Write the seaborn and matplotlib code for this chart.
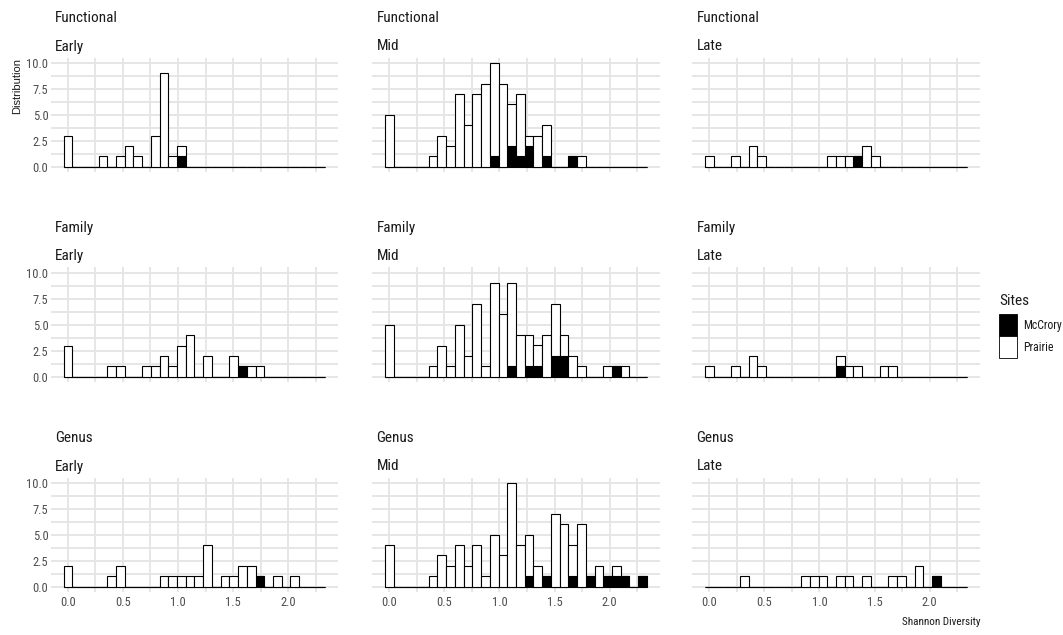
import numpy as np
import pandas as pd
import seaborn as sns
import matplotlib.pyplot as plt
from matplotlib.patches import Patch

# 30 bins shared by every panel (ggplot default), centred on 0 .. 2.30
n_bins = 30
bin_width = 2.30 / (n_bins - 1)
bin_centers = np.arange(n_bins) * bin_width
bin_edges = list(np.append(bin_centers - bin_width / 2, bin_centers[-1] + bin_width / 2))

taxa = ["Functional", "Family", "Genus"]
stages = ["Early", "Mid", "Late"]
sites = ["McCrory", "Prairie"]
site_colors = {"McCrory": "black", "Prairie": "white"}

# counts per bin (index 0..29)
functional_early_prairie = [3, 0, 0, 0, 1, 0, 1, 2, 1, 0, 3, 9, 1, 1, 0, 0, 0, 0, 0, 0, 0, 0, 0, 0, 0, 0, 0, 0, 0, 0]
functional_early_mccrory = [0, 0, 0, 0, 0, 0, 0, 0, 0, 0, 0, 0, 0, 1, 0, 0, 0, 0, 0, 0, 0, 0, 0, 0, 0, 0, 0, 0, 0, 0]
functional_mid_prairie = [5, 0, 0, 0, 0, 1, 3, 2, 7, 4, 7, 8, 9, 8, 4, 6, 1, 3, 3, 0, 0, 0, 1, 0, 0, 0, 0, 0, 0, 0]
functional_mid_mccrory = [0, 0, 0, 0, 0, 0, 0, 0, 0, 0, 0, 0, 1, 0, 2, 1, 2, 0, 1, 0, 0, 1, 0, 0, 0, 0, 0, 0, 0, 0]
functional_late_prairie = [1, 0, 0, 1, 0, 2, 1, 0, 0, 0, 0, 0, 0, 0, 1, 1, 1, 0, 2, 1, 0, 0, 0, 0, 0, 0, 0, 0, 0, 0]
functional_late_mccrory = [0, 0, 0, 0, 0, 0, 0, 0, 0, 0, 0, 0, 0, 0, 0, 0, 0, 1, 0, 0, 0, 0, 0, 0, 0, 0, 0, 0, 0, 0]

family_early_prairie = [3, 0, 0, 0, 0, 1, 1, 0, 0, 1, 1, 2, 1, 3, 4, 0, 2, 0, 0, 2, 0, 1, 1, 0, 0, 0, 0, 0, 0, 0]
family_early_mccrory = [0, 0, 0, 0, 0, 0, 0, 0, 0, 0, 0, 0, 0, 0, 0, 0, 0, 0, 0, 0, 1, 0, 0, 0, 0, 0, 0, 0, 0, 0]
family_mid_prairie = [5, 0, 0, 0, 0, 1, 3, 1, 5, 2, 7, 1, 9, 6, 8, 4, 3, 2, 4, 5, 2, 2, 1, 0, 0, 1, 0, 1, 0, 0]
family_mid_mccrory = [0, 0, 0, 0, 0, 0, 0, 0, 0, 0, 0, 0, 0, 0, 1, 0, 1, 1, 0, 2, 2, 0, 0, 0, 0, 0, 1, 0, 0, 0]
family_late_prairie = [1, 0, 0, 1, 0, 2, 1, 0, 0, 0, 0, 0, 0, 0, 0, 1, 1, 1, 0, 0, 1, 1, 0, 0, 0, 0, 0, 0, 0, 0]
family_late_mccrory = [0, 0, 0, 0, 0, 0, 0, 0, 0, 0, 0, 0, 0, 0, 0, 1, 0, 0, 0, 0, 0, 0, 0, 0, 0, 0, 0, 0, 0, 0]

genus_early_prairie = [2, 0, 0, 0, 0, 1, 2, 0, 0, 0, 0, 1, 1, 1, 1, 1, 4, 0, 1, 1, 2, 2, 0, 0, 1, 0, 1, 0, 0, 0]
genus_early_mccrory = [0, 0, 0, 0, 0, 0, 0, 0, 0, 0, 0, 0, 0, 0, 0, 0, 0, 0, 0, 0, 0, 0, 1, 0, 0, 0, 0, 0, 0, 0]
genus_mid_prairie = [4, 0, 0, 0, 0, 1, 3, 2, 4, 2, 4, 1, 5, 3, 10, 4, 4, 2, 0, 7, 6, 3, 6, 0, 2, 0, 1, 0, 0, 0]
genus_mid_mccrory = [0, 0, 0, 0, 0, 0, 0, 0, 0, 0, 0, 0, 0, 0, 0, 0, 1, 0, 1, 0, 0, 1, 0, 1, 0, 1, 1, 1, 0, 1]
genus_late_prairie = [0, 0, 0, 0, 1, 0, 0, 0, 0, 0, 0, 1, 1, 1, 0, 1, 1, 0, 1, 0, 0, 1, 1, 0, 2, 0, 0, 0, 0, 0]
genus_late_mccrory = [0, 0, 0, 0, 0, 0, 0, 0, 0, 0, 0, 0, 0, 0, 0, 0, 0, 0, 0, 0, 0, 0, 0, 0, 0, 0, 1, 0, 0, 0]

panel_counts = {
    ("Functional", "Early"): (functional_early_mccrory, functional_early_prairie),
    ("Functional", "Mid"): (functional_mid_mccrory, functional_mid_prairie),
    ("Functional", "Late"): (functional_late_mccrory, functional_late_prairie),
    ("Family", "Early"): (family_early_mccrory, family_early_prairie),
    ("Family", "Mid"): (family_mid_mccrory, family_mid_prairie),
    ("Family", "Late"): (family_late_mccrory, family_late_prairie),
    ("Genus", "Early"): (genus_early_mccrory, genus_early_prairie),
    ("Genus", "Mid"): (genus_mid_mccrory, genus_mid_prairie),
    ("Genus", "Late"): (genus_late_mccrory, genus_late_prairie),
}

rows = []
for (taxon, stage), site_lists in panel_counts.items():
    for site, counts in zip(sites, site_lists):
        for x, c in zip(bin_centers, counts):
            rows.append({"taxon": taxon, "stage": stage, "site": site,
                         "diversity": x, "count": c})
df = pd.DataFrame(rows)

sns.set_style("white")
plt.rcParams['font.family'] = ['Liberation Sans Narrow', 'Roboto Condensed',
                               'Liberation Sans', 'DejaVu Sans']

W_PX, H_PX = 1063, 635
fig = plt.figure(figsize=(W_PX / 100, H_PX / 100), dpi=100)

col_left = [50.5, 372, 692]
row_top = [57.5, 267.5, 477.5]
panel_w, panel_h = 288, 114.4
text_dark = "#1A1A1A"
text_grey = "#4D4D4D"
grid_col = "#E4E4E4"

axes = {}
for i, taxon in enumerate(taxa):
    for j, stage in enumerate(stages):
        ax = fig.add_axes([col_left[j] / W_PX, 1 - (row_top[i] + panel_h) / H_PX,
                           panel_w / W_PX, panel_h / H_PX])
        sub = df[(df["taxon"] == taxon) & (df["stage"] == stage)]
        sns.histplot(data=sub, x="diversity", weights="count", hue="site",
                     hue_order=["Prairie", "McCrory"], multiple="stack",
                     bins=bin_edges, palette=site_colors, edgecolor="black",
                     linewidth=0.8, alpha=1, legend=False, ax=ax)

        ax.set_xlim(-0.159, 2.459)
        ax.set_ylim(-0.5, 10.5)
        ax.set_xticks([0, 0.5, 1.0, 1.5, 2.0])
        ax.set_xticks([0.25, 0.75, 1.25, 1.75, 2.25], minor=True)
        ax.set_yticks([0, 2.5, 5.0, 7.5, 10.0])
        ax.set_yticks([1.25, 3.75, 6.25, 8.75], minor=True)
        ax.grid(which="both", color=grid_col, linewidth=1.3)
        ax.set_axisbelow(True)
        for s in ax.spines.values():
            s.set_visible(False)
        ax.tick_params(which="both", length=0, labelsize=9, labelcolor=text_grey)
        ax.tick_params(axis="x", pad=3)
        ax.tick_params(axis="y", pad=1.5)

        if i == 2:
            ax.set_xticklabels(["0.0", "0.5", "1.0", "1.5", "2.0"])
        else:
            ax.set_xticklabels([])
        if j == 0:
            ax.set_yticklabels(["0.0", "2.5", "5.0", "7.5", "10.0"])
        else:
            ax.set_yticklabels([])
        ax.set_xlabel("")
        ax.set_ylabel("")

        ax.annotate(taxon, xy=(0, 1), xycoords="axes fraction", xytext=(4.5, 35),
                    textcoords="offset pixels", ha="left", va="baseline",
                    fontsize=11, color=text_dark)
        ax.annotate(stage, xy=(0, 1), xycoords="axes fraction", xytext=(4.5, 7),
                    textcoords="offset pixels", ha="left", va="baseline",
                    fontsize=11, color=text_dark)
        axes[(i, j)] = ax

axes[(0, 0)].set_ylabel("Distribution", loc="top", fontsize=8, labelpad=3,
                        color=text_dark, family=["Liberation Sans", "DejaVu Sans"])
axes[(2, 2)].set_xlabel("Shannon Diversity", loc="right", fontsize=8, labelpad=6,
                        color=text_dark)

# legend: title as its own text so the gap above the keys can be set
fig.text(999 / W_PX, 1 - 305 / H_PX, "Sites", ha="left", va="baseline",
         fontsize=11, color=text_dark)
handles = [Patch(facecolor=site_colors[s], edgecolor="black", linewidth=0.6) for s in sites]
leg = fig.legend(handles, sites, loc="upper left",
                 bbox_to_anchor=(999 / W_PX, 1 - 314 / H_PX), frameon=False,
                 fontsize=8.5, handlelength=1.52, handleheight=2.49,
                 labelspacing=0, handletextpad=0.5, borderpad=0, borderaxespad=0)
for t in leg.get_texts():
    t.set_color(text_dark)

fig.savefig("out.png", dpi=100, facecolor="white")
